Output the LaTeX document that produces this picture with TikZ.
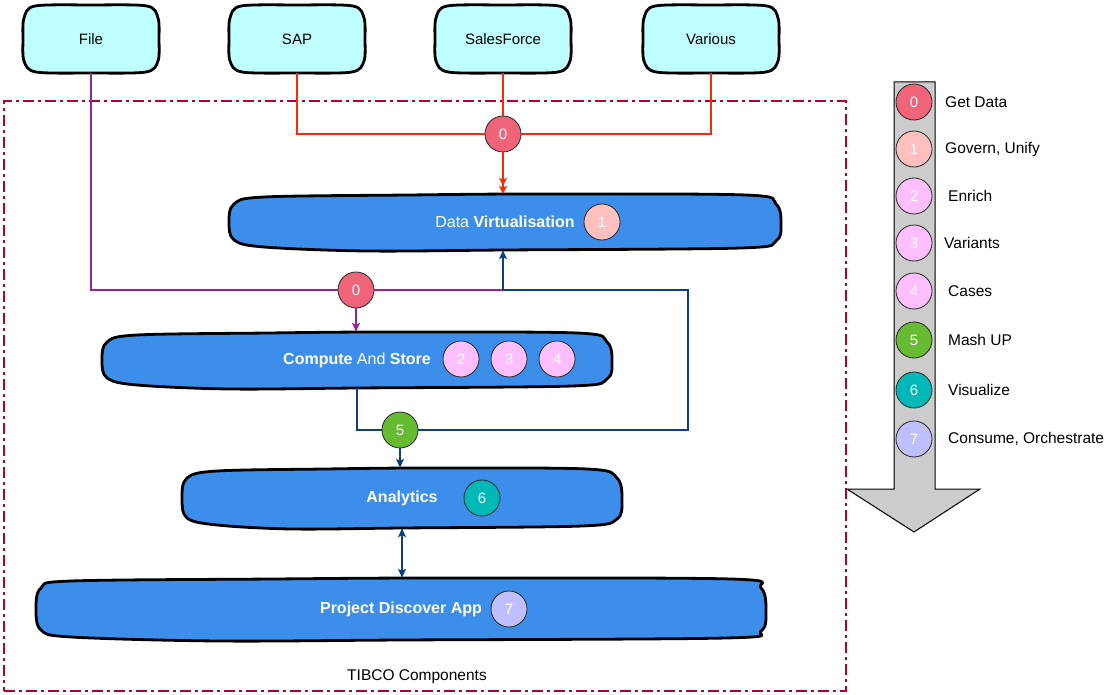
\documentclass[tikz,border=0pt]{standalone}
\usepackage{fontspec}
\setmainfont{Liberation Sans}
\usetikzlibrary{arrows.meta,calc}
\definecolor{cyanfill}{HTML}{BFFFFF}
\definecolor{bluefill}{HTML}{3D8EEA}
\definecolor{czero}{HTML}{F0647A}
\definecolor{cone}{HTML}{FFBFBF}
\definecolor{ctwo}{HTML}{FFBFFF}
\definecolor{cfive}{HTML}{66BB33}
\definecolor{csix}{HTML}{00B8B8}
\definecolor{cseven}{HTML}{BFBFFF}
\definecolor{redline}{HTML}{FF2A00}
\definecolor{purpline}{HTML}{992299}
\definecolor{navyline}{HTML}{0B3F80}
\definecolor{dashred}{HTML}{B5002E}
\definecolor{legendgray}{HTML}{CCCCCC}
\tikzset{
  sketchline/.style={draw=black, line width=2.8pt, line join=round},
  boxtext/.style={font=\fontsize{15}{18}\selectfont, text=black, inner sep=0pt},
  blobtext/.style={font=\fontsize{16}{19}\selectfont, text=white, inner sep=0pt},
  numcircle/.style={circle, draw=black!85, line width=0.8pt, minimum size=36pt, inner sep=0pt,
     text=white, font=\fontsize{15}{17}\selectfont},
  legtext/.style={font=\fontsize{15.5}{18}\selectfont, anchor=west, inner sep=0pt},
  redconn/.style={draw=redline, line width=1.2pt},
  purpconn/.style={draw=purpline, line width=1.2pt},
  navyconn/.style={draw=navyline, line width=1.2pt},
  tip/.style={-{Stealth[length=9pt,width=8pt,inset=2pt]}},
  tibcobox/.style={draw=dashred, line width=2.3pt, dash pattern=on 11pt off 4pt on 3pt off 4pt},
}
\newcommand\mkcyanbox[4]{%
  \draw[sketchline, fill=cyanfill] plot[smooth cycle, tension=0.5] coordinates {
    ({#2-68},{#3}) ({#2-67},{#3-21}) ({#2-56},{#3-33}) ({#2},{#3-34}) ({#2+56},{#3-33})
    ({#2+67},{#3-21}) ({#2+68},{#3}) ({#2+67},{#3+22}) ({#2+55},{#3+33}) ({#2},{#3+34})
    ({#2-55},{#3+33}) ({#2-67},{#3+22})};
  \node[boxtext, minimum width=136pt, minimum height=68pt] (#1) at (#2,#3) {#4};
}
\newcommand\mkblueblob[6]{%
  \draw[sketchline, fill=bluefill] plot[smooth cycle, tension=0.55] coordinates {
    ({#2-#4},{#3}) ({#2-#4+5},{#3-#5+10}) ({#2-#4+35},{#3-#5+3}) ({#2-0.35*#4},{#3-#5+1})
    ({#2+0.1*#4},{#3-#5}) ({#2+#4-35},{#3-#5+1}) ({#2+#4-5},{#3-#5+10}) ({#2+#4},{#3+2})
    ({#2+#4-5},{#3+#5-9}) ({#2+#4-40},{#3+#5-2}) ({#2},{#3+#5}) ({#2-0.5*#4},{#3+#5+1})
    ({#2-#4+35},{#3+#5-3}) ({#2-#4+5},{#3+#5-10})};
  \node[blobtext, minimum width=2*#4, minimum height=2*#5] (#1) at (#2,#3) {#6};
}
\begin{document}
\begin{tikzpicture}[x=1pt,y=-1pt]
\useasboundingbox (0,0) rectangle (1116,695);

% TIBCO frame
\node[tibcobox, anchor=north west, minimum width=842pt, minimum height=590pt, inner sep=0pt] (frame) at (3,100) {};
\node[boxtext, font=\fontsize{15.5}{18}\selectfont] (tibco) at (417,677) {TIBCO Components};

% sources
\mkcyanbox{file}{91}{39}{File}
\mkcyanbox{sap}{297}{39}{SAP}
\mkcyanbox{sf}{503}{39}{SalesForce}
\mkcyanbox{various}{711}{39}{Various}

% blobs
\mkblueblob{dv}{505}{222}{276}{28}{Data \textbf{Virtualisation}}
\mkblueblob{cas}{357}{360}{255}{28}{\textbf{Compute} And \textbf{Store}}
\mkblueblob{an}{402}{498}{220}{30}{\textbf{Analytics}}
\mkblueblob{pda}{401}{609}{365}{31}{\textbf{Project Discover App}}

% circles in diagram
\node[numcircle, fill=czero] (c0a) at (503,134) {0};
\node[numcircle, fill=cone] (c1) at (602,222) {1};
\node[numcircle, fill=czero] (c0b) at (356,290) {0};
\node[numcircle, fill=ctwo] (c2) at (461,359) {2};
\node[numcircle, fill=ctwo] (c3) at (509,359) {3};
\node[numcircle, fill=ctwo] (c4) at (557,359) {4};
\node[numcircle, fill=cfive] (c5) at (400,430) {5};
\node[numcircle, fill=csix] (c6) at (482,498) {6};
\node[numcircle, fill=cseven] (c7) at (509,609) {7};

\coordinate (j1) at (503,290);
\coordinate (jr) at (688,360);

% red connectors
\draw[redconn] (sap.south) |- (c0a.west);
\draw[redconn] (various.south) |- (c0a.east);
\draw[redconn] (sf.south) -- (c0a.north);
\draw[redconn, -{Stealth[length=8pt,width=8pt,inset=2pt] Stealth[length=8pt,width=8pt,inset=2pt]}] (c0a.south) -- (c0a.south |- dv.north);

% purple connectors
\draw[purpconn] (file.south) |- (c0b.west);
\draw[purpconn] (c0b.east) -- (j1);
\draw[purpconn, tip] (c0b.south) -- (c0b.south |- cas.north);

% navy connectors
\draw[navyconn, tip] (j1) -- (j1 |- dv.south);
\draw[navyconn] (j1) -| (jr) |- (c5.east);
\draw[navyconn] (cas.south) |- (c5.west);
\draw[navyconn, tip] (c5.south) -- (c5.south |- an.north);
\draw[navyconn, {Stealth[length=9pt,width=8pt,inset=2pt]}-{Stealth[length=9pt,width=8pt,inset=2pt]}] (an.south) -- (an.south |- pda.north);

% legend arrow
\draw[fill=legendgray, draw=black, line width=1pt] (894,82) -- (935,82) -- (935,489) -- (980,489) -- (914,532) -- (847,489) -- (894,489) -- cycle;
\node[numcircle, fill=czero] (l0) at (914,102) {0};
\node[numcircle, fill=cone] (l1) at (914,149) {1};
\node[numcircle, fill=ctwo] (l2) at (914,196) {2};
\node[numcircle, fill=ctwo] (l3) at (914,243) {3};
\node[numcircle, fill=ctwo] (l4) at (914,291) {4};
\node[numcircle, fill=cfive] (l5) at (914,340) {5};
\node[numcircle, fill=csix] (l6) at (914,390) {6};
\node[numcircle, fill=cseven] (l7) at (914,439) {7};
\node[legtext] (t0) at (945,102) {Get Data};
\node[legtext] (t1) at (945,149) {Govern, Unify};
\node[legtext] (t2) at (948,196) {Enrich};
\node[legtext] (t3) at (944,243) {Variants};
\node[legtext] (t4) at (948,291) {Cases};
\node[legtext] (t5) at (948,340) {Mash UP};
\node[legtext] (t6) at (948,390) {Visualize};
\node[legtext] (t7) at (948,439) {Consume, Orchestrate};
\end{tikzpicture}
\end{document}
